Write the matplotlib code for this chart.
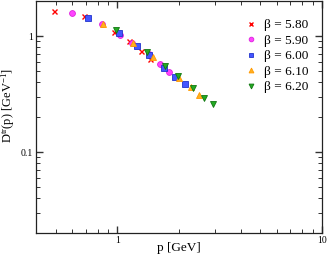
import matplotlib
matplotlib.use("Agg")
import matplotlib.pyplot as plt
from matplotlib.ticker import LogLocator, NullFormatter, FixedLocator, FixedFormatter

# ========================= data ==============================================

betas = ["5.80", "5.90", "6.00", "6.10", "6.20"]

p_580 = [0.49, 0.684, 0.967, 1.145, 1.31, 1.45]
d_580 = [1.66, 1.48, 1.09, 0.90, 0.747, 0.637]

p_590 = [0.597, 0.845, 1.034, 1.175, 1.42, 1.61, 1.78]
d_590 = [1.58, 1.28, 1.03, 0.876, 0.696, 0.57, 0.49]

p_600 = [0.718, 1.015, 1.243, 1.43, 1.68, 1.92, 2.13]
d_600 = [1.43, 1.07, 0.83, 0.69, 0.535, 0.446, 0.385]

p_610 = [0.85, 1.198, 1.49, 2.01, 2.30, 2.50]
d_610 = [1.27, 0.88, 0.665, 0.436, 0.364, 0.31]

p_620 = [0.985, 1.39, 1.70, 1.97, 2.33, 2.65, 2.92]
d_620 = [1.13, 0.728, 0.551, 0.45, 0.356, 0.294, 0.258]

# ========================= style =============================================

plt.rcParams['font.family'] = ['Liberation Serif', 'DejaVu Serif']
plt.rcParams['mathtext.fontset'] = 'custom'
plt.rcParams['mathtext.rm'] = 'Liberation Serif'
plt.rcParams['mathtext.it'] = 'Liberation Serif:italic'

series = [
    (p_580, d_580, 'x', '#ff0000', '#ff0000', 3.6),
    (p_590, d_590, 'o', '#ff44ff', '#dd22dd', 4.2),
    (p_600, d_600, 's', '#4455ff', '#2233cc', 3.8),
    (p_610, d_610, '^', '#ffb020', '#ff9900', 4.4),
    (p_620, d_620, 'v', '#22aa22', '#117711', 4.4),
]

# ========================= plot ==============================================

fig = plt.figure(figsize=(3.32, 2.6), dpi=100)
ax = fig.add_axes([0.1084, 0.1038, 0.8616, 0.8912])

for beta, (px, dy, mk, fc, ec, ms) in zip(betas, series):
    ax.plot(px, dy, linestyle='none', marker=mk, markersize=ms,
            markerfacecolor=fc, markeredgecolor=ec, color=fc,
            markeredgewidth=1.0 if mk == 'x' else 0.6,
            label=u'\u03b2 = {0}'.format(beta))

# configure axes

ax.set_xscale('log')
ax.set_yscale('log')
ax.set_xlim(0.4, 10)
ax.set_ylim(0.02, 2)

ax.xaxis.set_major_locator(FixedLocator([1, 10]))
ax.xaxis.set_major_formatter(FixedFormatter(['1', '10']))
ax.xaxis.set_minor_locator(LogLocator(base=10, subs=range(2, 10)))
ax.xaxis.set_minor_formatter(NullFormatter())
ax.yaxis.set_major_locator(FixedLocator([0.1, 1]))
ax.yaxis.set_major_formatter(FixedFormatter(['0.1', '1']))
ax.yaxis.set_minor_locator(LogLocator(base=10, subs=range(2, 10)))
ax.yaxis.set_minor_formatter(NullFormatter())

ax.tick_params(which='both', direction='in', top=True, right=True,
               labelsize=7, color='#333333', pad=2)
ax.tick_params(which='major', length=5, width=1.0)
ax.tick_params(which='minor', length=3, width=0.7)
for s in ax.spines.values():
    s.set_linewidth(0.9)
    s.set_color('#222222')

ax.set_xlabel('p [GeV]', fontsize=9.5)
ax.xaxis.set_label_coords(0.5, -0.04)
ax.set_ylabel(r'D$^{\rm tr}$(p) [GeV$^{-1}$]', fontsize=9)
ax.yaxis.set_label_coords(-0.065, 0.55)

ax.legend(loc='upper right', bbox_to_anchor=(0.995, 0.975), frameon=False,
          fontsize=9.5, handletextpad=0.5, labelspacing=0.25, borderaxespad=0.5,
          handlelength=1.0, markerscale=0.8)

# save figure

fig.savefig('out.png', dpi=100)
